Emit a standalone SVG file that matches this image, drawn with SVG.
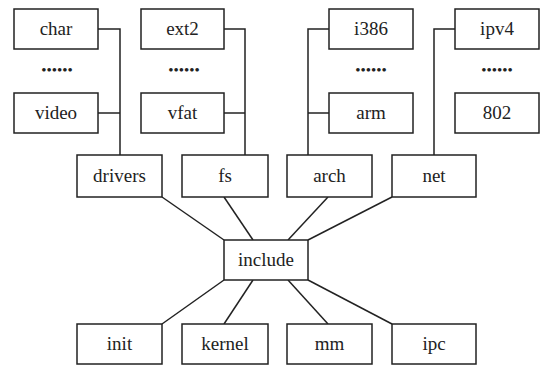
<svg xmlns="http://www.w3.org/2000/svg" width="541" height="365" viewBox="0 0 541 365">
<style>
.box{fill:#fff;stroke:#222;stroke-width:1.5}
text{font-family:'Liberation Serif','Times New Roman',Times,serif;fill:#222;text-anchor:middle}
.lbl{font-size:19px}
.con{fill:none;stroke:#222;stroke-width:1.5}
.dots{font-size:15px}
</style>
<rect width="541" height="365" fill="#fff"/>
<g id="connectors" class="con">
<polyline points="98,29 120,29 120,155"/>
<line x1="98" y1="113" x2="120" y2="113"/>
<polyline points="224,29 245,29 245,155"/>
<line x1="224" y1="113" x2="245" y2="113"/>
<polyline points="329,29 308,29 308,155"/>
<line x1="329" y1="113" x2="308" y2="113"/>
<polyline points="455,29 434,29 434,155"/>
<line x1="162" y1="197" x2="224" y2="240"/>
<line x1="224" y1="197" x2="253" y2="240"/>
<line x1="328" y1="197" x2="288" y2="240"/>
<line x1="392" y1="197" x2="308" y2="240"/>
<line x1="224" y1="280" x2="162" y2="324"/>
<line x1="253" y1="280" x2="224" y2="324"/>
<line x1="288" y1="280" x2="328" y2="324"/>
<line x1="308" y1="280" x2="392" y2="324"/>
</g>
<g font-family="Liberation Serif, serif">
<g id="char"><rect class="box" x="14" y="9" width="84" height="40"/><text class="lbl" x="56" y="35">char</text></g>
<g id="ext2"><rect class="box" x="141" y="9" width="83" height="40"/><text class="lbl" x="182.5" y="35">ext2</text></g>
<g id="i386"><rect class="box" x="329" y="9" width="84" height="40"/><text class="lbl" x="371" y="35">i386</text></g>
<g id="ipv4"><rect class="box" x="455" y="9" width="84" height="40"/><text class="lbl" x="497" y="35">ipv4</text></g>
<g id="dots1"><text class="dots" x="57" y="75">••••••</text></g>
<g id="dots2"><text class="dots" x="184" y="75">••••••</text></g>
<g id="dots3"><text class="dots" x="371" y="75">••••••</text></g>
<g id="dots4"><text class="dots" x="497" y="75">••••••</text></g>
<g id="video"><rect class="box" x="14" y="93" width="84" height="40"/><text class="lbl" x="56" y="119">video</text></g>
<g id="vfat"><rect class="box" x="141" y="93" width="83" height="40"/><text class="lbl" x="182.5" y="119">vfat</text></g>
<g id="arm"><rect class="box" x="329" y="93" width="84" height="40"/><text class="lbl" x="371" y="119">arm</text></g>
<g id="n802"><rect class="box" x="455" y="93" width="84" height="40"/><text class="lbl" x="497" y="119">802</text></g>
<g id="drivers"><rect class="box" x="77" y="155" width="85" height="42"/><text class="lbl" x="119.5" y="182">drivers</text></g>
<g id="fs"><rect class="box" x="182" y="155" width="86" height="42"/><text class="lbl" x="225" y="182">fs</text></g>
<g id="arch"><rect class="box" x="287" y="155" width="85" height="42"/><text class="lbl" x="329.5" y="182">arch</text></g>
<g id="net"><rect class="box" x="392" y="155" width="84" height="42"/><text class="lbl" x="434" y="182">net</text></g>
<g id="include"><rect class="box" x="224" y="240" width="84" height="40"/><text class="lbl" x="266" y="266">include</text></g>
<g id="init"><rect class="box" x="77" y="324" width="85" height="40"/><text class="lbl" x="119.5" y="350">init</text></g>
<g id="kernel"><rect class="box" x="182" y="324" width="86" height="40"/><text class="lbl" x="225" y="350">kernel</text></g>
<g id="mm"><rect class="box" x="287" y="324" width="85" height="40"/><text class="lbl" x="329.5" y="350">mm</text></g>
<g id="ipc"><rect class="box" x="392" y="324" width="84" height="40"/><text class="lbl" x="434" y="350">ipc</text></g>
</g>
</svg>
